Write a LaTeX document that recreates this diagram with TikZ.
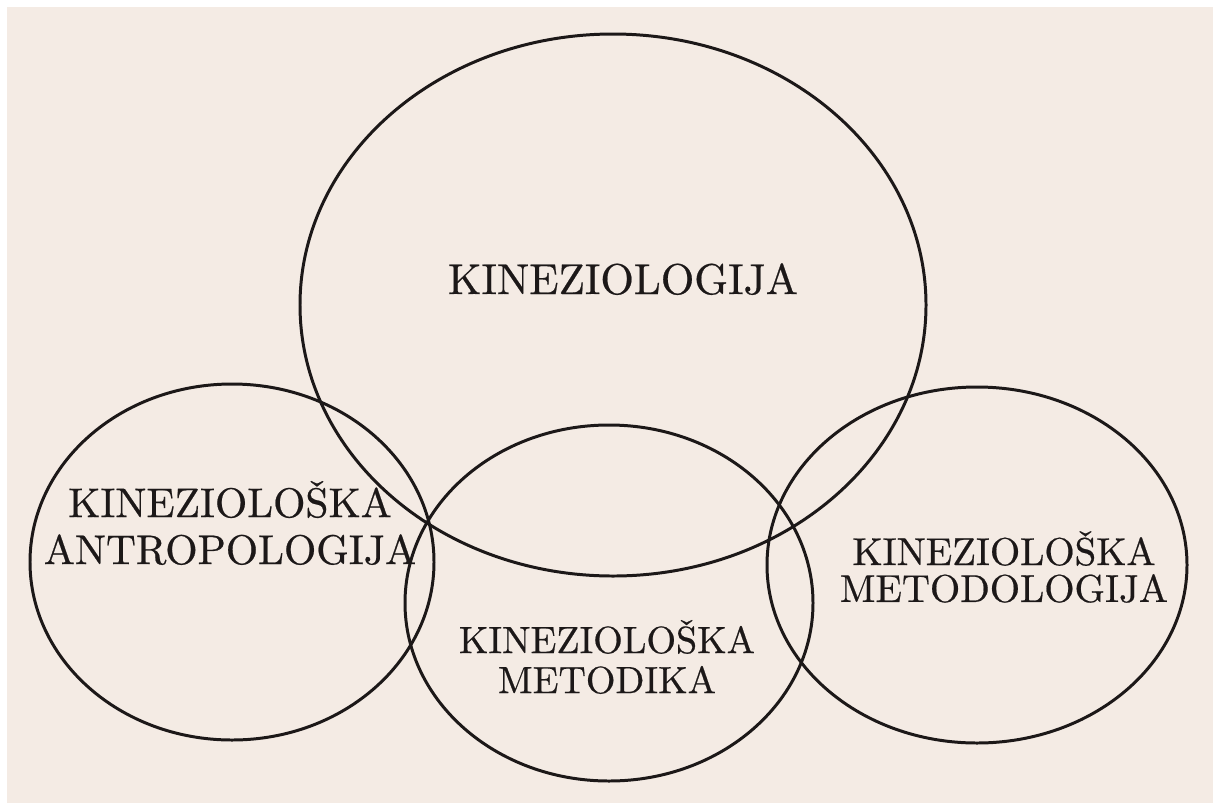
\documentclass[tikz,border=0pt]{standalone}
\usepackage{fontspec}
\usepackage{tikz}
\usetikzlibrary{positioning}
\newfontfamily\scanfont{lmroman10-regular.otf}[FakeBold=0.5]
\definecolor{paper}{RGB}{244,235,228}
\definecolor{ink}{RGB}{28,24,24}

\begin{document}
\begin{tikzpicture}[
  x=0.02cm, y=-0.02cm,
  ring/.style={draw=ink, line width=1.7pt},
  term/.style={text=ink, align=center, inner sep=0pt}
]
% page
\useasboundingbox (0,0) rectangle (1213,802);
\fill[white] (-10,-10) rectangle (1225,815);
\fill[paper] (7,7) rectangle (1225,815);

% ellipses
\draw[ring] (613,305) ellipse [x radius=313, y radius=271];
\draw[ring] (232,562) ellipse [x radius=202, y radius=178];
\draw[ring] (609,603) ellipse [x radius=204, y radius=178];
\draw[ring] (977,565) ellipse [x radius=210, y radius=178];

% texts
\node[term, anchor=base, font=\scanfont\fontsize{24.5}{27}\selectfont] (kin) at (623,294) {KINEZIOLOGIJA};
\node[term, font=\scanfont\fontsize{23.6}{26.7}\selectfont] (antro) at (230,523) {KINEZIOLOŠKA\\ANTROPOLOGIJA};
\node[term, font=\scanfont\fontsize{21.6}{22.8}\selectfont] (metodika) at (607,657) {KINEZIOLOŠKA\\METODIKA};
\node[term, font=\scanfont\fontsize{22.1}{21}\selectfont] (metodologija) at (1004,567) {KINEZIOLOŠKA\\METODOLOGIJA};
\end{tikzpicture}
\end{document}
